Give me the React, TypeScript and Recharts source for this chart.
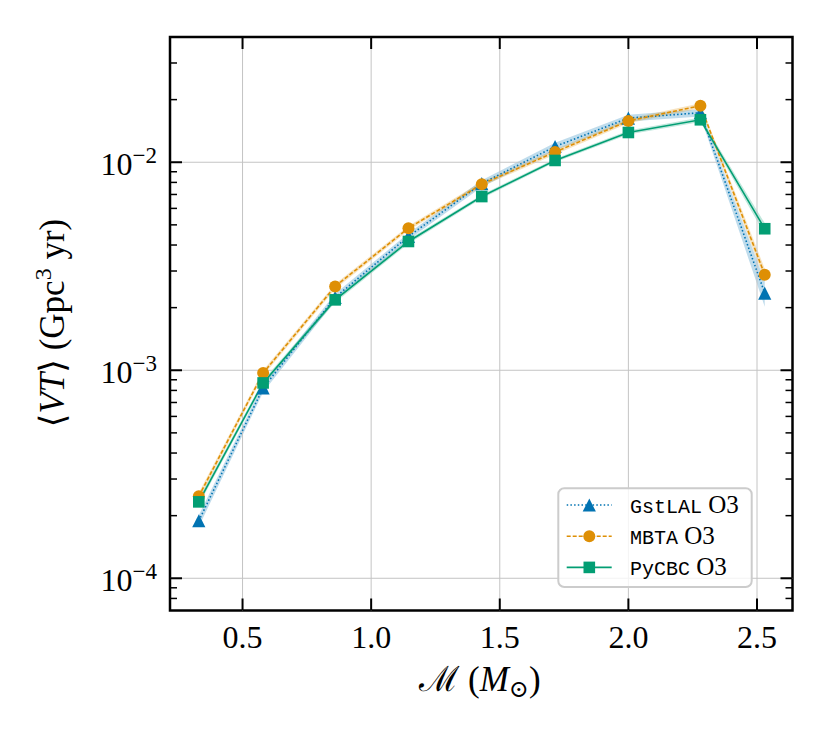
import { ComposedChart, Line, Area, XAxis, YAxis, ReferenceLine, ReferenceArea } from 'recharts'

const W = 830
const H = 738
const PLOT_L = 170
const PLOT_R = 792.5
const PLOT_T = 37
const PLOT_B = 610.5
const SERIF = '"Liberation Serif", "DejaVu Serif", serif'
const MONO = '"Liberation Mono", "DejaVu Sans Mono", monospace'

const BLUE = '#0173b2'
const ORANGE = '#de8f05'
const GREEN = '#029e73'

const X_DOMAIN: [number, number] = [0.218, 2.638]
const Y_DOMAIN: [number, number] = [7e-5, 4e-2]

// chirp mass bins
const chirpMass = [0.33, 0.58, 0.86, 1.145, 1.43, 1.715, 2.0, 2.28, 2.53]

// <VT> per pipeline (Gpc^3 yr)
const gstlal = [1.89e-4, 8.22e-4, 2.24e-3, 4.4e-3, 7.9e-3, 1.19e-2, 1.63e-2, 1.73e-2, 2.35e-3]
const gstlalLo = [1.77e-4, 7.85e-4, 2.15e-3, 4.24e-3, 7.6e-3, 1.14e-2, 1.57e-2, 1.66e-2, 2.02e-3]
const gstlalHi = [2.01e-4, 8.6e-4, 2.33e-3, 4.56e-3, 8.2e-3, 1.24e-2, 1.69e-2, 1.8e-2, 2.68e-3]

const mbta = [2.48e-4, 9.7e-4, 2.53e-3, 4.82e-3, 7.84e-3, 1.12e-2, 1.58e-2, 1.87e-2, 2.88e-3]
const mbtaLo = [2.38e-4, 9.4e-4, 2.46e-3, 4.7e-3, 7.65e-3, 1.09e-2, 1.54e-2, 1.82e-2, 2.7e-3]
const mbtaHi = [2.58e-4, 1.0e-3, 2.6e-3, 4.94e-3, 8.05e-3, 1.15e-2, 1.62e-2, 1.92e-2, 3.08e-3]

const pycbc = [2.33e-4, 8.69e-4, 2.18e-3, 4.16e-3, 6.84e-3, 1.02e-2, 1.39e-2, 1.6e-2, 4.79e-3]
const pycbcLo = [2.25e-4, 8.45e-4, 2.12e-3, 4.06e-3, 6.7e-3, 1.0e-2, 1.36e-2, 1.56e-2, 4.5e-3]
const pycbcHi = [2.41e-4, 8.95e-4, 2.24e-3, 4.26e-3, 6.98e-3, 1.04e-2, 1.42e-2, 1.64e-2, 5.1e-3]

const xTicks = [0.5, 1.0, 1.5, 2.0, 2.5]
const xGrid = [0.5, 1.0, 1.5, 2.0, 2.5]
const yGrid = [1e-4, 1e-3, 1e-2]
const yTicks = [
  8e-5, 9e-5,
  1e-4, 2e-4, 3e-4, 4e-4, 5e-4, 6e-4, 7e-4, 8e-4, 9e-4,
  1e-3, 2e-3, 3e-3, 4e-3, 5e-3, 6e-3, 7e-3, 8e-3, 9e-3,
  1e-2, 2e-2, 3e-2,
]

const data = chirpMass.map((m, i) => ({
  m,
  gstlal: gstlal[i],
  gBand: [gstlalLo[i], gstlalHi[i]],
  mbta: mbta[i],
  mBand: [mbtaLo[i], mbtaHi[i]],
  pycbc: pycbc[i],
  pBand: [pycbcLo[i], pycbcHi[i]],
}))

function Tri({ cx, cy, fill }: any) {
  const s = 6.6
  return <path d={`M${cx},${cy - s}L${cx - s},${cy + s}L${cx + s},${cy + s}Z`} fill={fill} />
}

function Dot({ cx, cy, fill }: any) {
  return <circle cx={cx} cy={cy} r={6} fill={fill} />
}

function Sq({ cx, cy, fill }: any) {
  const s = 5.8
  return <rect x={cx - s} y={cy - s} width={2 * s} height={2 * s} fill={fill} />
}

function XTick({ x, payload }: any) {
  return (
    <g>
      <line x1={x} x2={x} y1={PLOT_B} y2={PLOT_B - 12} stroke='#000' strokeWidth={2} />
      <line x1={x} x2={x} y1={PLOT_T} y2={PLOT_T + 12} stroke='#000' strokeWidth={2} />
      <text x={x} y={648} textAnchor='middle' fontFamily={SERIF} fontSize={32} fill='#000'>
        {Number(payload.value).toFixed(1)}
      </text>
    </g>
  )
}

function YTick({ y, payload }: any) {
  const exp = Math.log10(payload.value)
  const major = Math.abs(exp - Math.round(exp)) < 1e-6
  const len = major ? 12 : 7
  const sw = major ? 2 : 1.5
  return (
    <g>
      <line x1={PLOT_L} x2={PLOT_L + len} y1={y} y2={y} stroke='#000' strokeWidth={sw} />
      <line x1={PLOT_R} x2={PLOT_R - len} y1={y} y2={y} stroke='#000' strokeWidth={sw} />
      {major && (
        <text x={PLOT_L - 13} y={y + 13} textAnchor='end' fontFamily={SERIF} fontSize={32} fill='#000'>
          10
          <tspan dy={-12.5} fontSize={23}>
            −{-Math.round(exp)}
          </tspan>
        </text>
      )}
    </g>
  )
}

const legendRows = [
  { name: 'GstLAL', color: BLUE, dash: '1.5 2.2', Marker: Tri },
  { name: 'MBTA', color: ORANGE, dash: '4 2', Marker: Dot },
  { name: 'PyCBC', color: GREEN, dash: undefined, Marker: Sq },
]

function Overlay() {
  return (
    <svg width={W} height={H} style={{ position: 'absolute', left: 0, top: 0, pointerEvents: 'none' }}>
      <rect x={558.3} y={488.3} width={193.4} height={98.7} rx={6} fill='#fff' fillOpacity={0.8} stroke='#cccccc' strokeWidth={2} />
      {legendRows.map((r, i) => {
        const cy = 505 + i * 31.2
        return (
          <g key={r.name}>
            <line x1={566.7} x2={611.7} y1={cy} y2={cy} stroke={r.color} strokeWidth={1.6} strokeDasharray={r.dash} />
            <r.Marker cx={589.3} cy={cy} fill={r.color} />
            <text x={630} y={cy + 8} fill='#000'>
              <tspan fontFamily={MONO} fontSize={20}>{r.name}</tspan>
              <tspan fontFamily={SERIF} fontSize={25}> O3</tspan>
            </text>
          </g>
        )
      })}

      <text x={480} y={691} textAnchor='middle' fontFamily={SERIF} fontSize={35} fill='#000'>
        ℳ (<tspan fontStyle='italic'>M</tspan>
        <tspan dy={6} fontSize={24}>⊙</tspan>
        <tspan dy={-6}>)</tspan>
      </text>

      <text
        x={64}
        y={323}
        transform='rotate(-90, 64, 323)'
        textAnchor='middle'
        fontFamily={SERIF}
        fontSize={35}
        fill='#000'
      >
        ⟨<tspan fontStyle='italic'>VT</tspan>⟩ (Gpc
        <tspan dy={-13} fontSize={24}>3</tspan>
        <tspan dy={13}> yr)</tspan>
      </text>
    </svg>
  )
}

export default function App() {
  return (
    <div style={{ position: 'relative', width: W, height: H, background: '#fff' }}>
      <style>{'body{margin:0}'}</style>
      <ComposedChart
        width={W}
        height={H}
        data={data}
        margin={{ top: PLOT_T, right: W - PLOT_R, bottom: H - PLOT_B - 40, left: 0 }}
      >
        <XAxis
          type='number'
          dataKey='m'
          domain={X_DOMAIN}
          allowDataOverflow
          ticks={xTicks}
          interval={0}
          tick={<XTick />}
          tickLine={false}
          axisLine={false}
          height={40}
        />
        <YAxis
          type='number'
          scale='log'
          domain={Y_DOMAIN}
          allowDataOverflow
          ticks={yTicks}
          interval={0}
          tick={<YTick />}
          tickLine={false}
          axisLine={false}
          width={PLOT_L}
        />
        {xGrid.map((v) => (
          <ReferenceLine key={`gx${v}`} x={v} stroke='#c4c4c4' strokeWidth={1} />
        ))}
        {yGrid.map((v) => (
          <ReferenceLine key={`gy${v}`} y={v} stroke='#c4c4c4' strokeWidth={1} />
        ))}

        <Area type='linear' dataKey='gBand' stroke='none' fill={BLUE} fillOpacity={0.25} isAnimationActive={false} activeDot={false} />
        <Line
          type='linear'
          dataKey='gstlal'
          stroke={BLUE}
          strokeWidth={1.6}
          strokeDasharray='1.5 2.2'
          dot={(p: any) => <Tri key={`t${p.index}`} cx={p.cx} cy={p.cy} fill={BLUE} />}
          activeDot={false}
          isAnimationActive={false}
        />
        <Area type='linear' dataKey='mBand' stroke='none' fill={ORANGE} fillOpacity={0.25} isAnimationActive={false} activeDot={false} />
        <Line
          type='linear'
          dataKey='mbta'
          stroke={ORANGE}
          strokeWidth={1.6}
          strokeDasharray='4 2'
          dot={(p: any) => <Dot key={`c${p.index}`} cx={p.cx} cy={p.cy} fill={ORANGE} />}
          activeDot={false}
          isAnimationActive={false}
        />
        <Area type='linear' dataKey='pBand' stroke='none' fill={GREEN} fillOpacity={0.25} isAnimationActive={false} activeDot={false} />
        <Line
          type='linear'
          dataKey='pycbc'
          stroke={GREEN}
          strokeWidth={1.6}
          dot={(p: any) => <Sq key={`s${p.index}`} cx={p.cx} cy={p.cy} fill={GREEN} />}
          activeDot={false}
          isAnimationActive={false}
        />

        <ReferenceArea x1={X_DOMAIN[0]} x2={X_DOMAIN[1]} y1={Y_DOMAIN[0]} y2={Y_DOMAIN[1]} fill='none' stroke='#000' strokeWidth={2.5} />
      </ComposedChart>
      <Overlay />
    </div>
  )
}
